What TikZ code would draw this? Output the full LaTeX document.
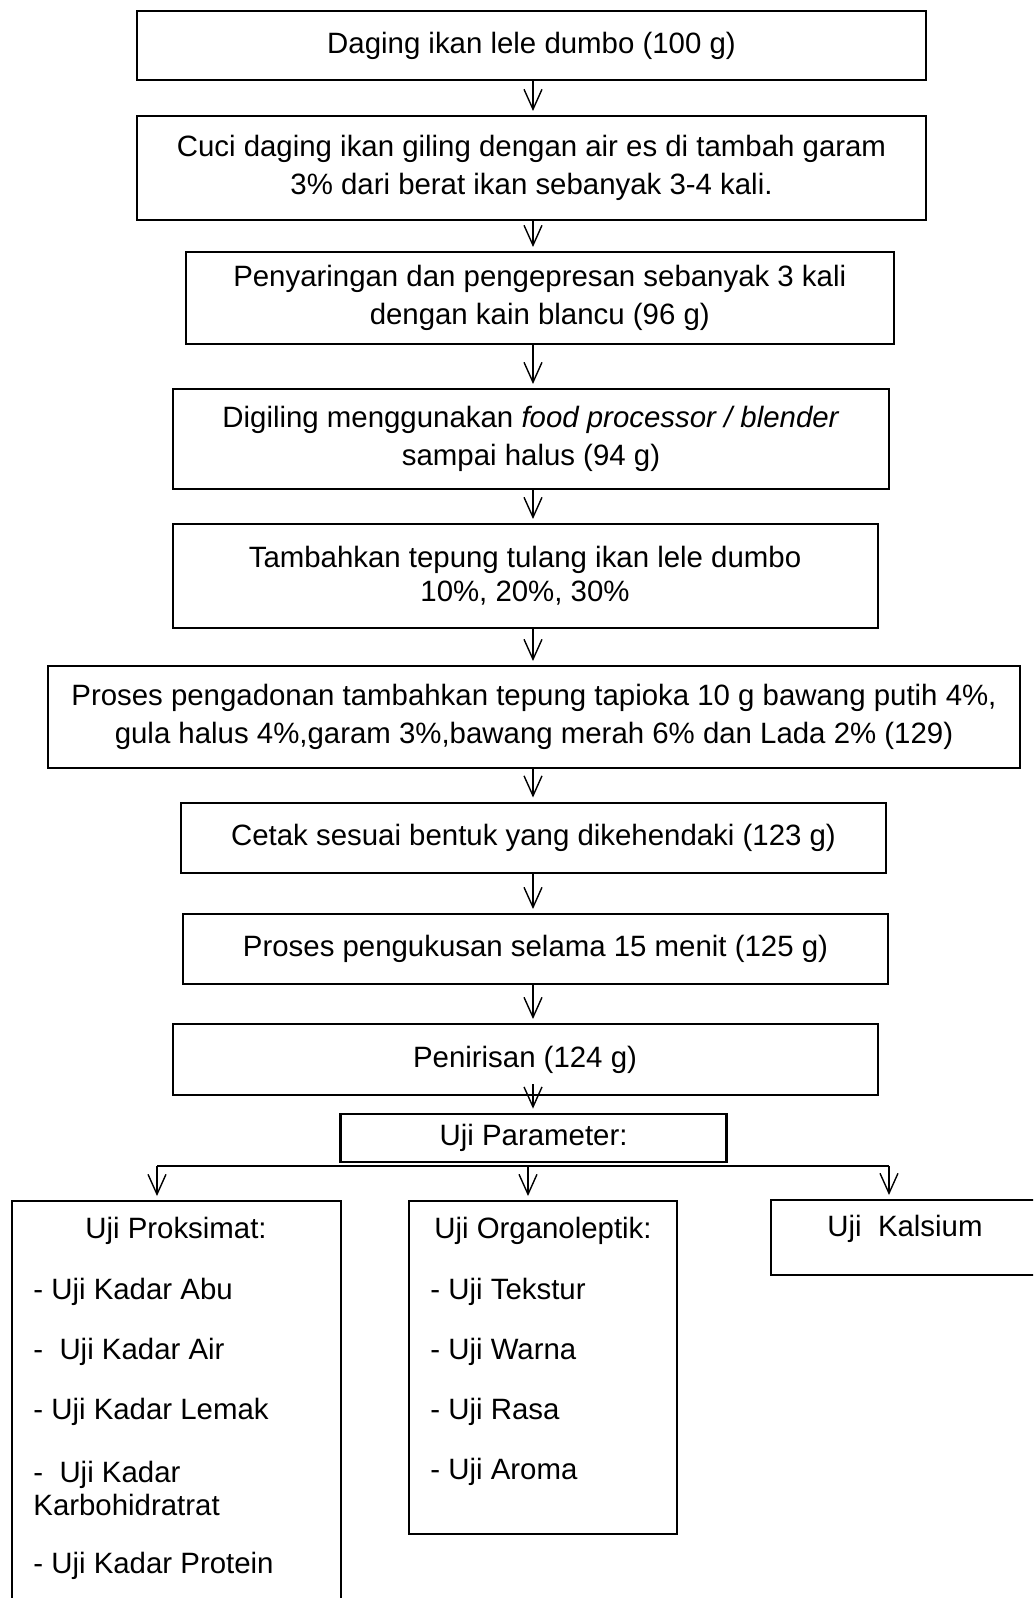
\documentclass[tikz,border=0pt]{standalone}
\usepackage{fontspec}
\setmainfont{Liberation Sans}
\usetikzlibrary{arrows.meta}
\begin{document}
\begin{tikzpicture}[x=.5pt,y=-.5pt,line cap=butt,line join=miter,
        >={Straight Barb[length=10pt,width=9pt]},font=\fontsize{14.7pt}{19pt}\selectfont]
    \tikzset{stepbox/.style={draw,line width=1pt,align=center,inner sep=0pt},
        item/.style={anchor=west,inner sep=0pt,align=left},
        flow/.style={->,line width=.7pt,shorten >=2pt}
    }
    \useasboundingbox (0,0) rectangle (1033,1598);
    \clip (0,0) rectangle (1033,1598);
    \coordinate (ax) at (533,0);
    % proses pembuatan
    \node[stepbox,minimum width=394.5pt,minimum height=34.5pt] (b1) at (531.5,45.5) {Daging ikan lele dumbo (100 g)};
    \node[stepbox,minimum width=394.5pt,minimum height=52pt] (b2) at (531.5,168) {Cuci daging ikan giling dengan air es di tambah garam\\3\% dari berat ikan sebanyak 3-4 kali.};
    \node[stepbox,minimum width=354.25pt,minimum height=46pt] (b3) at (539.75,298) {Penyaringan dan pengepresan sebanyak 3 kali\\dengan kain blancu (96 g)};
    \node[stepbox,minimum width=358pt,minimum height=50pt] (b4) at (531,439) {Digiling menggunakan \textit{food processor / blender}\\sampai halus (94 g)};
    \node[stepbox,minimum width=352.5pt,minimum height=52pt,font=\fontsize{14.7pt}{17pt}\selectfont] (b5) at (525,576) {Tambahkan tepung tulang ikan lele dumbo\\10\%, 20\%, 30\%};
    \node[stepbox,minimum width=486pt,minimum height=51pt] (b6) at (534,717) {Proses pengadonan tambahkan tepung tapioka 10 g bawang putih 4\%,\\gula halus 4\%,garam 3\%,bawang merah 6\% dan Lada 2\% (129)};
    \node[stepbox,minimum width=352.5pt,minimum height=35pt] (b7) at (533.5,837.5) {Cetak sesuai bentuk yang dikehendaki (123 g)};
    \node[stepbox,minimum width=352.5pt,minimum height=35pt] (b8) at (535.5,949) {Proses pengukusan selama 15 menit (125 g)};
    \node[stepbox,minimum width=352.5pt,minimum height=35.5pt] (b9) at (525,1059.5) {Penirisan (124 g)};
    \node[stepbox,line width=1.4pt,minimum width=193pt,minimum height=24pt] (param) at (533.6,1138) {Uji Parameter:};
    \foreach \a/\b in {b1/b2,b2/b3,b3/b4,b4/b5,b5/b6,b6/b7,b7/b8,b8/b9}
        \draw[flow] (\a.south -| ax) -- (\b.north -| ax);
    \draw[flow] (b9.south -| ax) ++(0,-12) -- (param.north -| ax);
    % uji parameter
    \node[stepbox,minimum width=164.3pt,minimum height=219pt] (prox) at (176.3,1420) {};
    \node[stepbox,minimum width=133.75pt,minimum height=166.5pt] (org) at (542.75,1367.5) {};
    \node[stepbox,minimum width=154.5pt,minimum height=37.25pt] (kal) at (925.5,1237.25) {};
    \coordinate (kl) at (157,1166);
    \coordinate (km) at (528,1166);
    \coordinate (kr) at (889,1166);
    \draw[line width=.7pt] (kl) -- (kr);
    \foreach \c/\n in {kl/prox,km/org,kr/kal}
        \draw[flow] (\c) -- (\c |- \n.north);
    \node (proxT) at (176,1231) {Uji Proksimat:};
    \foreach \y/\t [count=\i] in {1291.6/{- Uji Kadar Abu},1351.7/{-~ Uji Kadar Air},1411.7/{- Uji Kadar Lemak},
            1488.4/{-~ Uji Kadar\\Karbohidratrat},1566/{- Uji Kadar Protein}}
        \node[item,font=\fontsize{14.7pt}{16.5pt}\selectfont] (prox\i) at (33,\y) {\t};
    \node (orgT) at (543,1231) {Uji Organoleptik:};
    \foreach \y/\t [count=\i] in {1291.6/Tekstur,1351.7/Warna,1411.7/Rasa,1471.8/Aroma}
        \node[item] (org\i) at (430,\y) {- Uji \t};
    \node (kalT) at (905,1229) {Uji~ Kalsium};
\end{tikzpicture}
\end{document}
